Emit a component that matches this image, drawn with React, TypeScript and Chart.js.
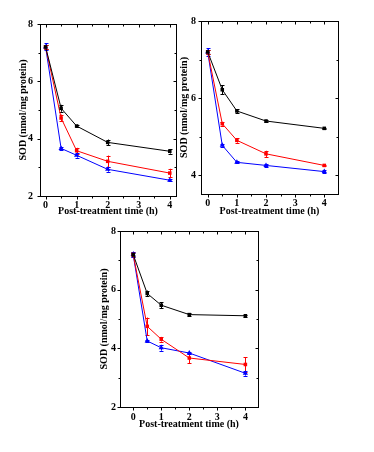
import React, { useEffect, useRef } from "react";
import { Chart, registerables } from "chart.js";

Chart.register(...registerables);

// ---- data ----
const times = [0, 0.5, 1, 2, 4];
const xTickValues = [0, 1, 2, 3, 4];
const yLabel = "SOD (nmol/mg protein)";
const xLabel = "Post-treatment time (h)";

// Panel A (top-left)
const aBlack = [7.2, 5.06, 4.44, 3.87, 3.56];
const aBlackErr = [0.08, 0.12, 0.05, 0.1, 0.08];
const aRed = [7.2, 4.72, 3.58, 3.21, 2.8];
const aRedErr = [0.08, 0.12, 0.1, 0.2, 0.15];
const aBlue = [7.2, 3.66, 3.42, 2.93, 2.55];
const aBlueErr = [0.12, 0.06, 0.08, 0.08, 0.04];
const aYTicks = [2, 4, 6, 8];

// Panel B (top-right)
const bBlack = [7.2, 6.22, 5.67, 5.41, 5.22];
const bBlackErr = [0.06, 0.12, 0.05, 0.03, 0.02];
const bRed = [7.2, 5.34, 4.91, 4.56, 4.26];
const bRedErr = [0.06, 0.05, 0.06, 0.08, 0.02];
const bBlue = [7.2, 4.78, 4.34, 4.26, 4.1];
const bBlueErr = [0.1, 0.03, 0.03, 0.03, 0.03];
const bYTicks = [4, 6, 8];

// Panel C (bottom)
const cBlack = [7.2, 5.87, 5.47, 5.15, 5.11];
const cBlackErr = [0.05, 0.1, 0.1, 0.04, 0.03];
const cRed = [7.2, 4.75, 4.31, 3.67, 3.45];
const cRedErr = [0.08, 0.3, 0.08, 0.18, 0.25];
const cBlue = [7.2, 4.25, 4.02, 3.84, 3.15];
const cBlueErr = [0.1, 0.05, 0.1, 0.05, 0.08];
const cYTicks = [2, 4, 6, 8];

// ---- layout / styles ----
const FONT = { family: "'Liberation Serif', 'Times New Roman', serif", size: 10, weight: "bold" as const };
const BLACK = "#000000";
const RED = "#ff0000";
const BLUE = "#0000ff";

type PanelCfg = {
  left: number; top: number; w: number; h: number;
  padTop: number; padRight: number; yWidth: number; xHeight: number;
  yTitlePad: number; xTitlePad: number; yTickPad: number; xTickPad: number;
  xMin: number; xMax: number; yMin: number; yMax: number;
  yTicks: number[];
  series: { data: number[]; err: number[]; color: string; style: string }[];
};

const panels: PanelCfg[] = [
  {
    left: 0, top: 0, w: 190, h: 225,
    padTop: 24, padRight: 14, yWidth: 40, xHeight: 29,
    yTitlePad: 17, xTitlePad: 8, yTickPad: 7, xTickPad: 3,
    xMin: -0.18, xMax: 4.2, yMin: 2, yMax: 8, yTicks: aYTicks,
    series: [
      { data: aBlack, err: aBlackErr, color: BLACK, style: "rect" },
      { data: aRed, err: aRedErr, color: RED, style: "rect" },
      { data: aBlue, err: aBlueErr, color: BLUE, style: "triangle" },
    ],
  },
  {
    left: 150, top: 0, w: 224, h: 225,
    padTop: 21, padRight: 36, yWidth: 51, xHeight: 31,
    yTitlePad: 28, xTitlePad: 8, yTickPad: 5, xTickPad: 3,
    xMin: -0.23, xMax: 4.47, yMin: 3.52, yMax: 8, yTicks: bYTicks,
    series: [
      { data: bBlack, err: bBlackErr, color: BLACK, style: "rect" },
      { data: bRed, err: bRedErr, color: RED, style: "rect" },
      { data: bBlue, err: bBlueErr, color: BLUE, style: "triangle" },
    ],
  },
  {
    left: 60, top: 215, w: 240, h: 225,
    padTop: 16, padRight: 42, yWidth: 60, xHeight: 33,
    yTitlePad: 38, xTitlePad: 10, yTickPad: 4, xTickPad: 4,
    xMin: -0.47, xMax: 4.45, yMin: 2, yMax: 8, yTicks: cYTicks,
    series: [
      { data: cBlack, err: cBlackErr, color: BLACK, style: "rect" },
      { data: cRed, err: cRedErr, color: RED, style: "rect" },
      { data: cBlue, err: cBlueErr, color: BLUE, style: "triangle" },
    ],
  },
];

const errorBarPlugin = {
  id: "errorBars",
  beforeDatasetsDraw(chart: any) {
    const { ctx, scales } = chart;
    const y = scales.y;
    chart.data.datasets.forEach((ds: any, i: number) => {
      const meta = chart.getDatasetMeta(i);
      if (!ds.errors) return;
      ctx.save();
      ctx.strokeStyle = ds.borderColor;
      ctx.lineWidth = 1;
      meta.data.forEach((pt: any, j: number) => {
        const v = ds.data[j].y;
        const e = ds.errors[j];
        const px = Math.round(pt.x) + 0.5;
        const y1 = y.getPixelForValue(v + e);
        const y2 = y.getPixelForValue(v - e);
        ctx.beginPath();
        ctx.moveTo(px, y1);
        ctx.lineTo(px, y2);
        ctx.moveTo(px - 2, Math.round(y1) + 0.5);
        ctx.lineTo(px + 2, Math.round(y1) + 0.5);
        ctx.moveTo(px - 2, Math.round(y2) + 0.5);
        ctx.lineTo(px + 2, Math.round(y2) + 0.5);
        ctx.stroke();
      });
      ctx.restore();
    });
  },
};

const framePlugin = {
  id: "frame",
  afterDraw(chart: any) {
    const { ctx, chartArea, scales } = chart;
    const { x, y } = scales;
    const l = Math.round(chartArea.left) + 0.5;
    const r = Math.round(chartArea.right) + 0.5;
    const t = Math.round(chartArea.top) + 0.5;
    const b = Math.round(chartArea.bottom) + 0.5;
    ctx.save();
    ctx.strokeStyle = "#000";
    ctx.lineWidth = 1;
    ctx.strokeRect(l, t, r - l, b - t);
    ctx.beginPath();
    for (let v = 0; v <= 4.001; v += 0.5) {
      const px = Math.round(x.getPixelForValue(v)) + 0.5;
      const len = Math.abs(v - Math.round(v)) < 0.01 ? 3 : 2;
      ctx.moveTo(px, b);
      ctx.lineTo(px, b + len);
      ctx.moveTo(px, t);
      ctx.lineTo(px, t + len);
    }
    for (let v = Math.ceil(y.min); v <= Math.floor(y.max); v++) {
      const py = Math.round(y.getPixelForValue(v)) + 0.5;
      const len = v % 2 === 0 ? 3 : 2;
      ctx.moveTo(l, py);
      ctx.lineTo(l - len, py);
      ctx.moveTo(r, py);
      ctx.lineTo(r - len, py);
    }
    ctx.stroke();
    ctx.restore();
  },
};

function Panel({ cfg }: { cfg: PanelCfg }) {
  const ref = useRef<HTMLCanvasElement | null>(null);
  useEffect(() => {
    if (!ref.current) return;
    const chart = new Chart(ref.current, {
      type: "line",
      data: {
        datasets: cfg.series.map((s) => ({
          data: times.map((t, i) => ({ x: t, y: s.data[i] })),
          errors: s.err,
          borderColor: s.color,
          backgroundColor: s.color,
          borderWidth: 1,
          pointStyle: s.style,
          pointRadius: s.style === "triangle" ? 3 : 2.5,
          pointBorderWidth: 0,
          tension: 0,
        })) as any,
      },
      options: {
        responsive: false,
        animation: false,
        devicePixelRatio: 1,
        layout: { padding: { left: 0, top: cfg.padTop, right: cfg.padRight, bottom: 0 } },
        plugins: { legend: { display: false }, tooltip: { enabled: false } },
        scales: {
          x: {
            type: "linear",
            min: cfg.xMin,
            max: cfg.xMax,
            afterBuildTicks: (s: any) => {
              s.ticks = xTickValues.map((v) => ({ value: v }));
            },
            afterFit: (s: any) => {
              s.height = cfg.xHeight;
            },
            grid: { display: false, drawTicks: false },
            border: { display: false },
            ticks: { padding: cfg.xTickPad, font: FONT, color: "#000", maxRotation: 0, callback: (v: any) => String(v) },
            title: { display: true, text: xLabel, font: FONT, color: "#000", padding: { top: 0, bottom: cfg.xTitlePad } },
          },
          y: {
            type: "linear",
            min: cfg.yMin,
            max: cfg.yMax,
            afterBuildTicks: (s: any) => {
              s.ticks = cfg.yTicks.map((v) => ({ value: v }));
            },
            afterFit: (s: any) => {
              s.width = cfg.yWidth;
            },
            grid: { display: false, drawTicks: false },
            border: { display: false },
            ticks: { padding: cfg.yTickPad, font: FONT, color: "#000", callback: (v: any) => String(v) },
            title: { display: true, text: yLabel, font: FONT, color: "#000", padding: { top: cfg.yTitlePad, bottom: 0 } },
          },
        },
      } as any,
      plugins: [errorBarPlugin, framePlugin],
    });
    return () => chart.destroy();
  }, [cfg]);
  return (
    <canvas
      ref={ref}
      width={cfg.w}
      height={cfg.h}
      style={{ position: "absolute", left: cfg.left, top: cfg.top, width: cfg.w, height: cfg.h }}
    />
  );
}

export default function App() {
  return (
    <div style={{ position: "absolute", left: 0, top: 0, width: 374, height: 452, background: "#fff" }}>
      {panels.map((p, i) => (
        <Panel key={i} cfg={p} />
      ))}
    </div>
  );
}
